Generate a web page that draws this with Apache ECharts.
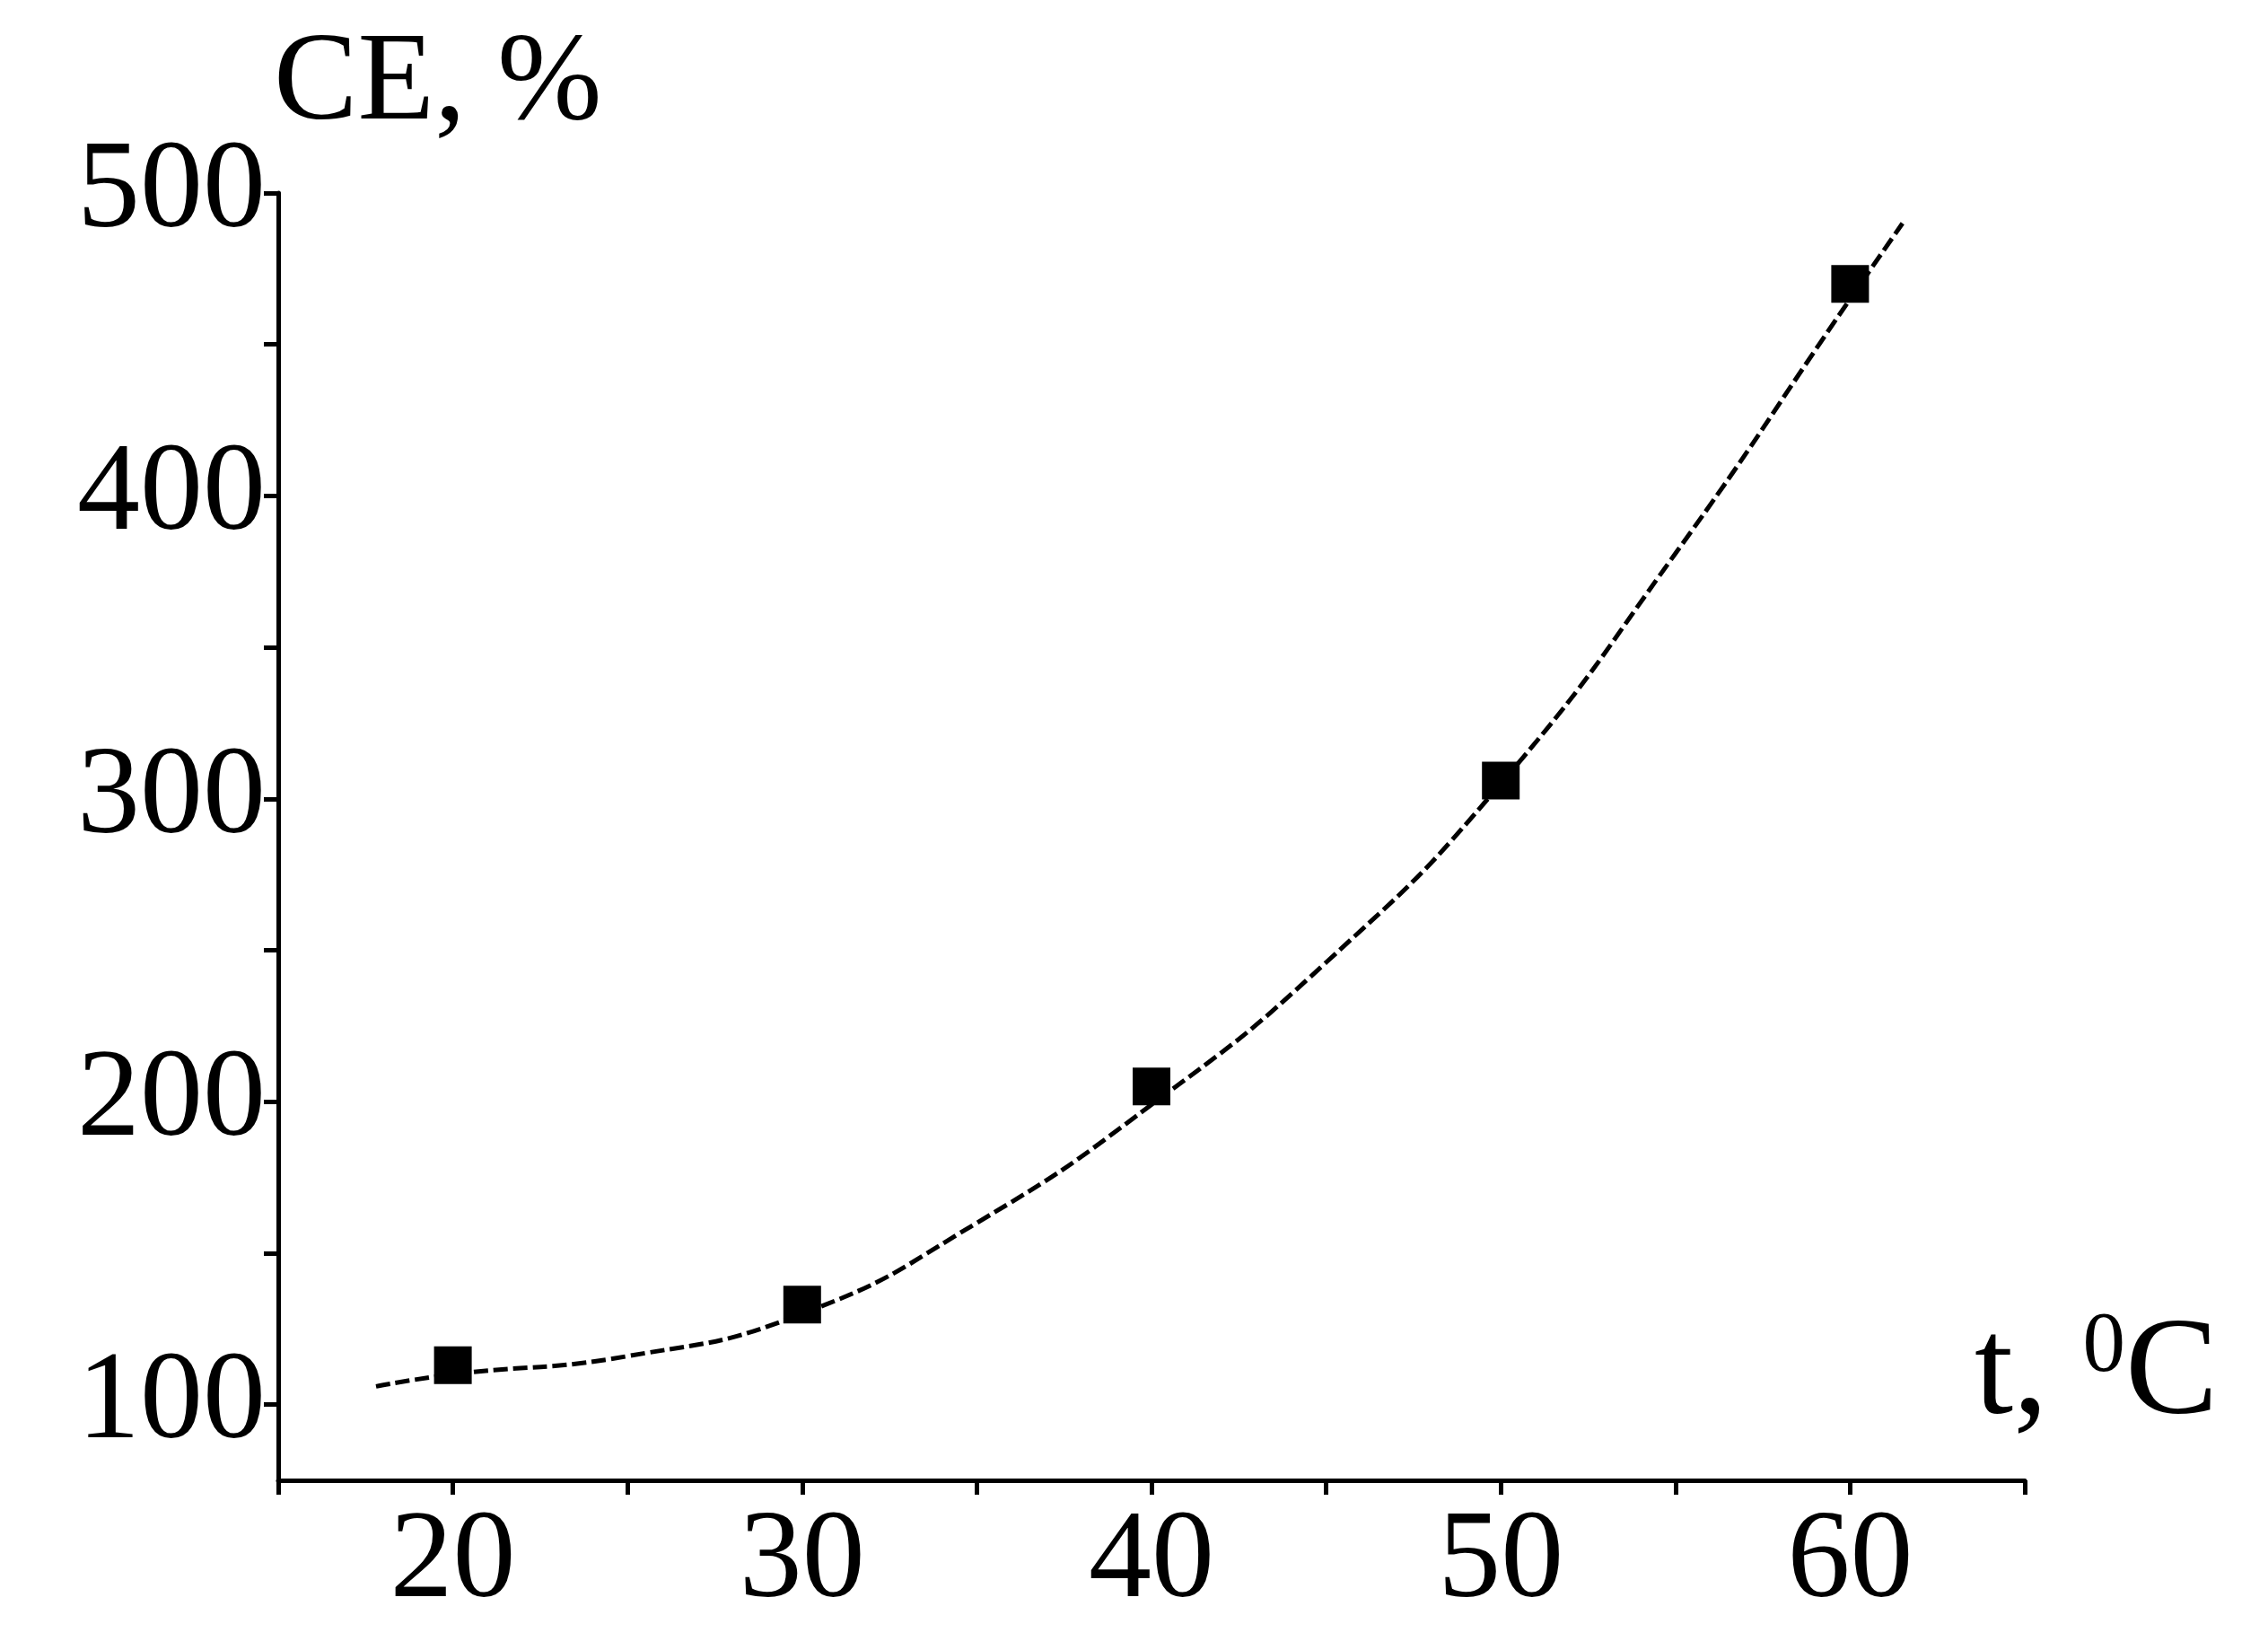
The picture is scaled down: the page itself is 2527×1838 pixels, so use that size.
<!DOCTYPE html>
<html><head><meta charset="utf-8">
<script src="https://cdn.jsdelivr.net/npm/echarts@6/dist/echarts.min.js"></script>
<style>html,body{margin:0;background:#fff}#c{width:2527px;height:1838px}</style>
</head><body><div id="c"></div>
<script>
const tempC = [20, 30, 40, 50, 60];
const ce = [113, 133, 205, 306, 470];
const fitX = [17.8, 20, 25, 30, 35, 40, 45, 50, 55, 60, 61.5];
const fitY = [106, 110, 116, 130, 160, 199, 246, 305, 381, 465, 490];
const yTicks = [100, 200, 300, 400, 500];
const xTicks = [20, 30, 40, 50, 60];
const F = 'Liberation Serif, Times New Roman, serif';
const chart = echarts.init(document.getElementById('c'));
chart.setOption({
  animation:false,
  grid:{left:310,right:271,top:215,bottom:189},
  xAxis:{type:'value',min:15,max:65,interval:5,
    axisLine:{lineStyle:{color:'#000',width:5}},
    axisTick:{show:true,length:16,lineStyle:{color:'#000',width:5}},
    axisLabel:{fontFamily:F,fontSize:140,color:'#000',margin:22,
      formatter:v=>xTicks.includes(v)?String(v):''},
    splitLine:{show:false}},
  yAxis:{type:'value',min:75,max:500,interval:50,
    axisLine:{show:true,lineStyle:{color:'#000',width:5}},
    axisTick:{show:true,length:16,lineStyle:{color:'#000',width:5},
      customValues:[100,150,200,250,300,350,400,450,500]},
    axisLabel:{fontFamily:F,fontSize:140,color:'#000',margin:14,
      customValues:yTicks},
    splitLine:{show:false}},
  graphic:[
    {type:'text',left:305,top:25,style:{text:'CE, %',font:'140px '+F,fill:'#000'}},
    {type:'text',left:2200,top:1455,style:{text:'t, {s|0}C',font:'155px '+F,fill:'#000',
      rich:{s:{fontSize:95,fontFamily:F,verticalAlign:'top',padding:[0,0,60,0]}}}}
  ],
  series:[
    {type:'line',data:fitX.map((x,i)=>[x,fitY[i]]),smooth:0.5,showSymbol:false,
      lineStyle:{color:'#000',width:5,type:[16,6]},z:1},
    {type:'scatter',data:tempC.map((x,i)=>[x,ce[i]]),symbol:'rect',symbolSize:42,
      itemStyle:{color:'#000',opacity:1},z:3}
  ]
});
</script></body></html>
